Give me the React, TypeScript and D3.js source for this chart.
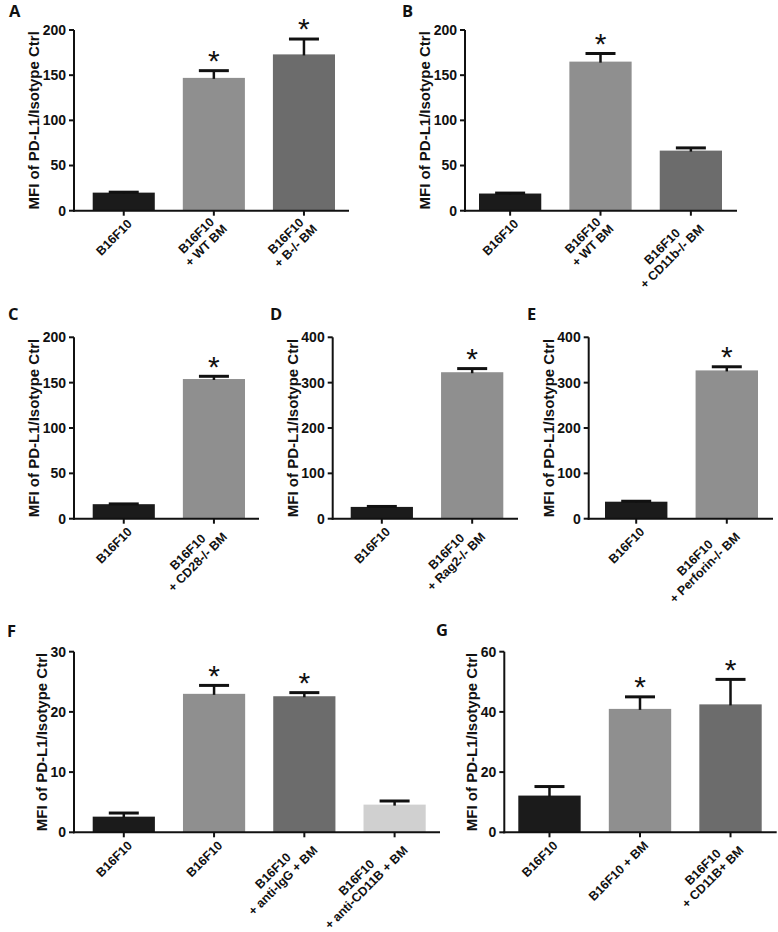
import React from 'react';
import * as d3 from 'd3';

// ---------------- DATA ----------------
const catsA = ['B16F10', 'B16F10\n+ WT BM', 'B16F10\n+ B-/- BM'];
const valsA = [20, 147, 173];
const semA = [0.5, 8, 17];
const sigA = [false, true, true];
const ticksA = [0, 50, 100, 150, 200];

const catsB = ['B16F10', 'B16F10\n+ WT BM', 'B16F10\n+ CD11b-/- BM'];
const valsB = [19, 165, 66.5];
const semB = [0.5, 9, 3];
const sigB = [false, true, false];
const ticksB = [0, 50, 100, 150, 200];

const catsC = ['B16F10', 'B16F10\n+ CD28-/- BM'];
const valsC = [16, 154];
const semC = [0.3, 3];
const sigC = [false, true];
const ticksC = [0, 50, 100, 150, 200];

const catsD = ['B16F10', 'B16F10\n+ Rag2-/- BM'];
const valsD = [26, 323];
const semD = [1, 8];
const sigD = [false, true];
const ticksD = [0, 100, 200, 300, 400];

const catsE = ['B16F10', 'B16F10\n+ Perforin-/- BM'];
const valsE = [37.5, 327];
const semE = [1, 8];
const sigE = [false, true];
const ticksE = [0, 100, 200, 300, 400];

const catsF = ['B16F10', 'B16F10 ', 'B16F10\n+ anti-IgG + BM', 'B16F10\n+ anti-CD11B + BM'];
const valsF = [2.6, 23.0, 22.6, 4.6];
const semF = [0.6, 1.4, 0.6, 0.6];
const sigF = [false, true, true, false];
const ticksF = [0, 10, 20, 30];

const catsG = ['B16F10', 'B16F10 + BM', 'B16F10\n+ CD11B+ BM'];
const valsG = [12.2, 41, 42.5];
const semG = [3, 4, 8.3];
const sigG = [false, true, true];
const ticksG = [0, 20, 40, 60];

const yTitle = 'MFI of PD-L1/Isotype Ctrl';

// ---------------- STYLE / LAYOUT ----------------
const BLACK = '#1b1b1b';
const LIGHT = '#8f8f8f';
const DARK = '#6c6c6c';
const PALE = '#d0d0d0';
const INK = '#111';

const FONT = "'Liberation Sans', Arial, Helvetica, sans-serif";
const LETTER_FONT = "'Open Sans', 'Liberation Sans', sans-serif";

type Layout = {
  axisX: number; top: number; bottom: number; barStart: number; barEnd: number; xEnd: number;
  lx: number; ly: number;
};

type Panel = {
  letter: string; cats: string[]; vals: number[]; sem: number[]; sig: boolean[];
  ticks: number[]; fills: string[]; L: Layout;
};

const panels: Panel[] = [
  { letter: 'A', cats: catsA, vals: valsA, sem: semA, sig: sigA, ticks: ticksA, fills: [BLACK, LIGHT, DARK],
    L: { axisX: 74, top: 30, bottom: 210.7, barStart: 92.7, barEnd: 335, xEnd: 349, lx: 9, ly: 16.5 } },
  { letter: 'B', cats: catsB, vals: valsB, sem: semB, sig: sigB, ticks: ticksB, fills: [BLACK, LIGHT, DARK],
    L: { axisX: 465, top: 30, bottom: 210.7, barStart: 479, barEnd: 722, xEnd: 737, lx: 402, ly: 16.5 } },
  { letter: 'C', cats: catsC, vals: valsC, sem: semC, sig: sigC, ticks: ticksC, fills: [BLACK, LIGHT],
    L: { axisX: 74, top: 337.3, bottom: 518.7, barStart: 92.7, barEnd: 245, xEnd: 259, lx: 8, ly: 320 } },
  { letter: 'D', cats: catsD, vals: valsD, sem: semD, sig: sigD, ticks: ticksD, fills: [BLACK, LIGHT],
    L: { axisX: 332.7, top: 337.3, bottom: 518.7, barStart: 350.7, barEnd: 503.3, xEnd: 518, lx: 270, ly: 320 } },
  { letter: 'E', cats: catsE, vals: valsE, sem: semE, sig: sigE, ticks: ticksE, fills: [BLACK, LIGHT],
    L: { axisX: 588.7, top: 337.3, bottom: 518.7, barStart: 605, barEnd: 758, xEnd: 773, lx: 527, ly: 320 } },
  { letter: 'F', cats: catsF, vals: valsF, sem: semF, sig: sigF, ticks: ticksF, fills: [BLACK, LIGHT, DARK, PALE],
    L: { axisX: 74, top: 651.7, bottom: 832.3, barStart: 92.7, barEnd: 425.7, xEnd: 440, lx: 7, ly: 637 } },
  { letter: 'G', cats: catsG, vals: valsG, sem: semG, sig: sigG, ticks: ticksG, fills: [BLACK, LIGHT, DARK],
    L: { axisX: 504.3, top: 651.7, bottom: 832.3, barStart: 518.3, barEnd: 761.7, xEnd: 776.7, lx: 436, ly: 636 } },
];

const TICK_FS = 14;
const XLAB_FS = 12.5;
const TITLE_FS = 15;
const STAR_FS = 30;
const LETTER_FS = 16.5;

let ctx: CanvasRenderingContext2D | null = null;
function measure(text: string, size: number): number {
  if (!ctx && typeof document !== 'undefined') {
    ctx = document.createElement('canvas').getContext('2d');
  }
  if (!ctx) return text.length * size * 0.6;
  ctx.font = `bold ${size}px "Liberation Sans", Arial, sans-serif`;
  return ctx.measureText(text).width;
}

function PanelChart({ p }: { p: Panel }) {
  const L = p.L;
  const max = p.ticks[p.ticks.length - 1];
  const y = d3.scaleLinear().domain([0, max]).range([L.bottom, L.top]);
  const x = d3.scaleBand<string>().domain(p.cats).range([L.barStart, L.barEnd]).paddingInner(0.311).paddingOuter(0);
  const bw = x.bandwidth();
  const maxW = d3.max(p.ticks, (t) => measure(String(t), TICK_FS)) || 0;
  const tx = L.axisX - 5 - 3 - maxW - 3.5;
  const ty = (L.top + L.bottom) / 2;
  const lh = XLAB_FS * 1.12;

  return (
    <g>
      {p.cats.map((c, i) => (
        <rect key={'b' + i} x={x(c)} width={bw} y={y(p.vals[i])} height={y(0) - y(p.vals[i])} fill={p.fills[i]} />
      ))}
      {p.cats.map((c, i) => {
        const cx = x(c)! + bw / 2;
        const yt = y(p.vals[i] + p.sem[i]);
        const yb = y(p.vals[i]);
        return (
          <g key={'e' + i}>
            <line x1={cx} x2={cx} y1={yb + 1} y2={yt} stroke={INK} strokeWidth={2.5} />
            <line x1={cx - 15} x2={cx + 15} y1={yt} y2={yt} stroke={INK} strokeWidth={3} />
            {p.sig[i] && (
              <text x={cx} y={yt + 0.575 * STAR_FS - 17} textAnchor="middle" fontFamily={FONT}
                fontSize={STAR_FS} fill={INK}>*</text>
            )}
          </g>
        );
      })}
      {/* y axis */}
      <line x1={L.axisX} x2={L.axisX} y1={L.bottom + 1} y2={L.top} stroke={INK} strokeWidth={2} />
      {p.ticks.map((t) => (
        <g key={'t' + t}>
          <line x1={L.axisX - 5} x2={L.axisX} y1={y(t)} y2={y(t)} stroke={INK} strokeWidth={2} />
          <text x={L.axisX - 8} y={y(t)} dy="0.35em" textAnchor="end" fontFamily={FONT} fontSize={TICK_FS}
            fontWeight="bold" fill={INK}>{t}</text>
        </g>
      ))}
      {/* x axis */}
      <line x1={L.axisX - 1} x2={L.xEnd} y1={L.bottom} y2={L.bottom} stroke={INK} strokeWidth={2} />
      {p.cats.map((c, i) => {
        const cx = x(c)! + bw / 2;
        const lines = c.trim().split('\n');
        const W = Math.max(...lines.map((ln) => measure(ln, XLAB_FS)));
        const ax = cx + 9;
        const ay = L.bottom + 14;
        return (
          <g key={'x' + i}>
            <line x1={cx} x2={cx} y1={L.bottom} y2={L.bottom + 5} stroke={INK} strokeWidth={2} />
            <g transform={`translate(${ax},${ay}) rotate(-45)`}>
              {lines.map((ln, k) => (
                <text key={k} x={-W / 2} y={(k - (lines.length - 1) / 2) * lh}
                  textAnchor="middle" fontFamily={FONT}
                  fontSize={XLAB_FS} fontWeight="bold" fill={INK}>{ln}</text>
              ))}
            </g>
          </g>
        );
      })}
      <text transform={`translate(${tx},${ty}) rotate(-90)`} textAnchor="middle" fontFamily={FONT}
        fontSize={TITLE_FS} fontWeight="bold" fill={INK}>{yTitle}</text>
      <text x={L.lx} y={L.ly} fontFamily={LETTER_FONT} fontSize={LETTER_FS} fontWeight="bold" fill={INK}>{p.letter}</text>
    </g>
  );
}

export default function App() {
  return (
    <svg width={778} height={932} style={{ position: 'absolute', left: 0, top: 0, background: '#fff', display: 'block' }}>
      {panels.map((p) => <PanelChart key={p.letter} p={p} />)}
    </svg>
  );
}
